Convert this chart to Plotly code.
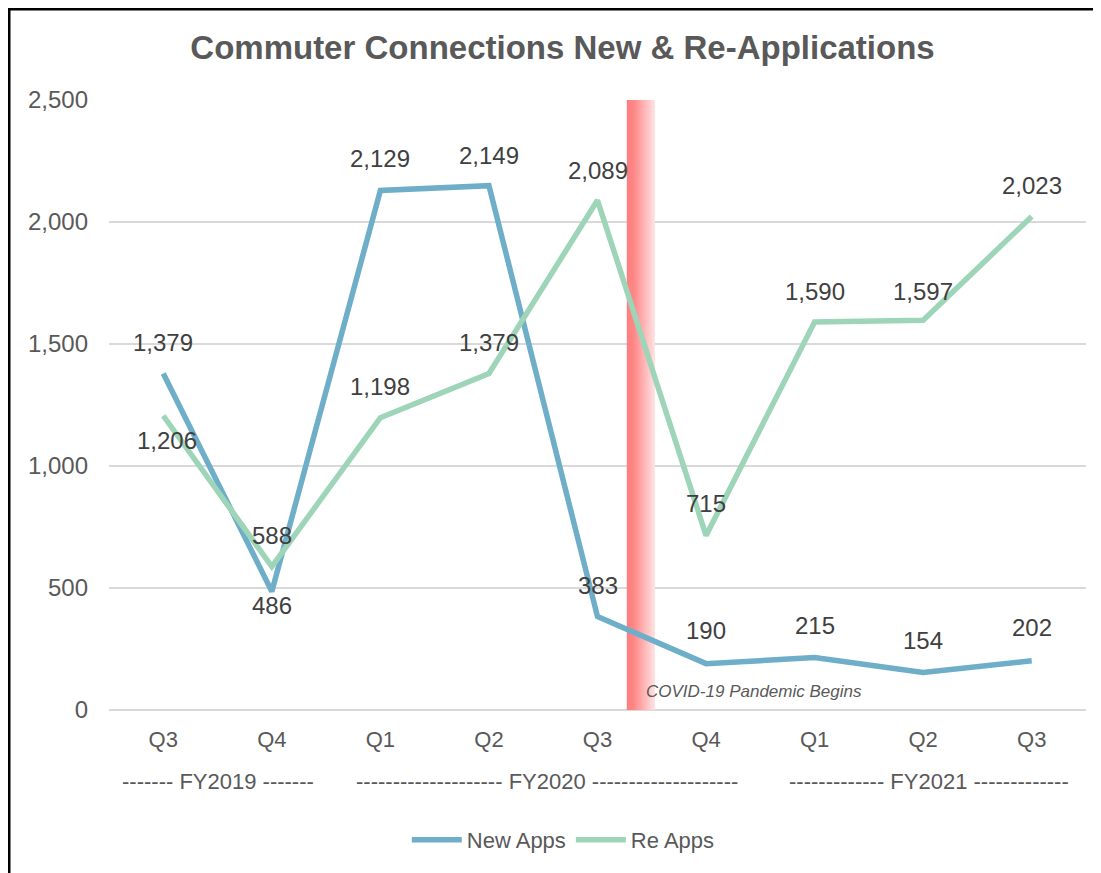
import numpy as np
import plotly.graph_objects as go

# ---- data ----
quarters = ["Q3", "Q4", "Q1", "Q2", "Q3", "Q4", "Q1", "Q2", "Q3"]
fiscal_years = ["FY2019", "FY2020", "FY2021"]
fy_groups = [[0, 1], [2, 3, 4, 5], [6, 7, 8]]
fy_dashes = [7, 20, 13]
new_apps = [1379, 486, 2129, 2149, 383, 190, 215, 154, 202]
re_apps = [1206, 588, 1198, 1379, 2089, 715, 1590, 1597, 2023]
covid_start = 4.27   # category-axis position of pandemic band (between Q3 and Q4 FY2020)
covid_end = 4.53
y_max = 2500

# label offsets (px) - styling only
new_shift = [31, -14, 32, 30, 31, 33, 32, 32, 33]
re_shift = [-25, 31, 31, 31, 30, 32, 31, 29, 31]
re_xshift = [4, 0, 0, 0, 0, 0, 0, 0, 0]
fy_xshift = [0, 4, 6]

BLUE = "#6EAEC8"
GREEN = "#9ED5B9"
GRAY = "#595959"
LABEL = "#404040"
SANS = "Liberation Sans, Arial, sans-serif"

W, H = 1093, 865   # page body has an 8px margin
x = list(range(len(quarters)))

fig = go.Figure()
# pandemic band with horizontal gradient
fig.add_trace(go.Scatter(
    x=[covid_start, covid_end, covid_end, covid_start, covid_start],
    y=[0, 0, y_max, y_max, 0], mode="lines", fill="toself",
    line=dict(width=0, color="rgba(0,0,0,0)"),
    fillgradient=dict(type="horizontal",
                      colorscale=[[0, "rgb(255,125,125)"], [0.25, "rgb(255,135,135)"],
                                  [1, "rgb(255,228,228)"]]),
    showlegend=False, hoverinfo="skip"))
fig.add_trace(go.Scatter(x=x, y=new_apps, mode="lines", name="New Apps",
                         line=dict(color=BLUE, width=5.5), hoverinfo="skip"))
fig.add_trace(go.Scatter(x=x, y=re_apps, mode="lines", name="Re Apps",
                         line=dict(color=GREEN, width=5.5), hoverinfo="skip"))

annotations = []
for xi, v, s in zip(x, new_apps, new_shift):
    annotations.append(dict(x=xi, y=v, text=f"{v:,}", showarrow=False, yshift=s,
                            font=dict(family=SANS, size=24, color=LABEL)))
for xi, v, s, xs in zip(x, re_apps, re_shift, re_xshift):
    annotations.append(dict(x=xi, y=v, text=f"{v:,}", showarrow=False, yshift=s,
                            xshift=xs, font=dict(family=SANS, size=24, color=LABEL)))

# fiscal-year group labels
for fy, grp, nd, xs in zip(fiscal_years, fy_groups, fy_dashes, fy_xshift):
    d = "-" * nd
    annotations.append(dict(x=float(np.mean(grp)), y=-0.1164, xref="x", yref="paper",
                            xanchor="center", yanchor="middle", xshift=xs,
                            text=f"{d} {fy} {d}", showarrow=False,
                            font=dict(family=SANS, size=22, color=GRAY)))

# covid annotation
annotations.append(dict(x=covid_start + 0.16, y=0.03, xref="x", yref="paper",
                        text="<i>COVID-19 Pandemic Begins</i>", showarrow=False,
                        xanchor="left", yanchor="middle",
                        font=dict(family=SANS, size=17, color=GRAY)))

ml, mr, mt, mb = 101, 15, 92, 163
pw, ph = W - ml - mr, H - mt - mb
shapes = [dict(type="rect", xref="paper", yref="paper",
               x0=(1.25 - ml) / pw, x1=1.3, y0=-0.5, y1=(H - mb - 1.25) / ph,
               line=dict(color="black", width=2.5),
               fillcolor="rgba(0,0,0,0)", layer="above")]

fig.update_layout(
    width=W, height=H,
    margin=dict(l=ml, r=mr, t=mt, b=mb),
    paper_bgcolor="white", plot_bgcolor="white",
    title=dict(text="<b>Commuter Connections New & Re-Applications</b>",
               x=554.5 / W, xref="container", xanchor="center",
               y=1 - 39 / H, yref="container", yanchor="middle",
               font=dict(family=SANS, size=33, color=GRAY)),
    xaxis=dict(range=[-0.5, 8.5], tickmode="array", tickvals=x, ticktext=quarters,
               showgrid=False, zeroline=False, showline=False, ticks="",
               ticklabelstandoff=14,
               tickfont=dict(family=SANS, size=22, color=GRAY), fixedrange=True),
    yaxis=dict(range=[0, y_max], tickvals=[0, 500, 1000, 1500, 2000, 2500],
               tickformat=",", showgrid=True, gridcolor="#D9D9D9", gridwidth=2,
               zeroline=True, zerolinecolor="#D9D9D9", zerolinewidth=2,
               showline=False, ticks="", ticklabelstandoff=20,
               tickfont=dict(family=SANS, size=24, color=GRAY), fixedrange=True),
    legend=dict(orientation="h", x=0.465, xanchor="center", y=-0.213, yanchor="middle",
                font=dict(family=SANS, size=22, color=GRAY), bgcolor="rgba(0,0,0,0)",
                itemwidth=50),
    annotations=annotations,
    shapes=shapes,
    showlegend=True,
)

fig.write_html("out.html")
